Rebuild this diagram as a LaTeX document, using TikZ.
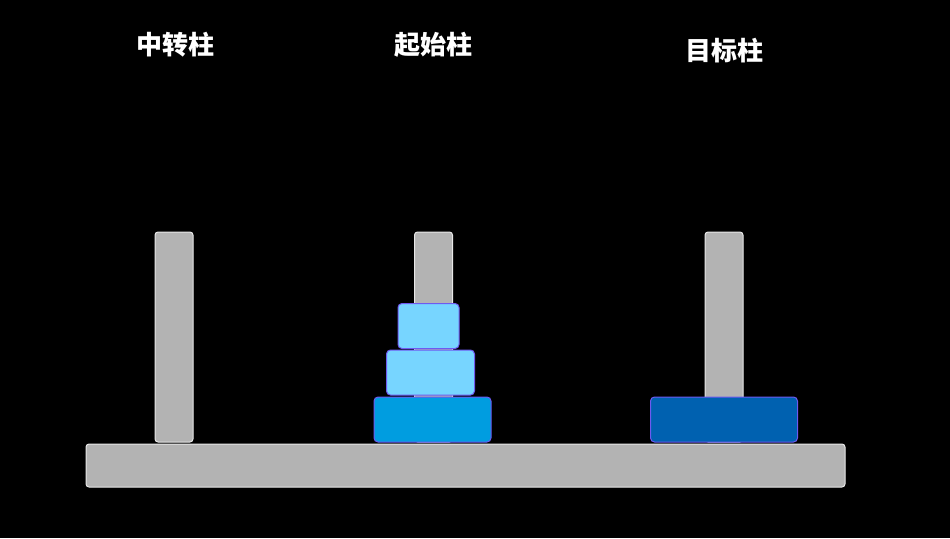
\documentclass[tikz,border=0pt]{standalone}
\usepackage{fontspec}
\newfontfamily\cjk{Noto Sans CJK SC}
\usetikzlibrary{positioning}
\definecolor{pegGray}{RGB}{179,179,179}
\definecolor{pegEdge}{RGB}{232,232,232}
\definecolor{diskEdge}{RGB}{110,90,240}
\definecolor{diskLight}{RGB}{119,213,255}
\definecolor{diskMid}{RGB}{0,157,224}
\definecolor{diskDark}{RGB}{0,97,176}

\begin{document}
\begin{tikzpicture}[
    x=1pt, y=-1pt,
    peg/.style={rectangle, draw=pegEdge, fill=pegGray, line width=1pt, rounded corners=3pt, minimum width=38pt, minimum height=210pt, inner sep=0pt, outer sep=0pt},
    base/.style={rectangle, draw=pegEdge, fill=pegGray, line width=1pt, rounded corners=3pt, minimum width=759pt, minimum height=43pt, inner sep=0pt, outer sep=0pt},
    disk/.style={rectangle, draw=diskEdge, line width=1pt, rounded corners=4pt, minimum height=45pt, inner sep=0pt, outer sep=0pt},
    title/.style={text=white, font=\cjk\bfseries\fontsize{26}{30}\selectfont, inner sep=0pt}
]
\fill[black] (0,0) rectangle (950,538);
\useasboundingbox (0,0) rectangle (950,538);

% Base and pegs
\node[base] (board) at (465.5,465.5) {};
\node[peg] (pegA) at (174,337) {};
\node[peg] (pegB) at (433.5,337) {};
\node[peg] (pegC) at (724,337) {};

% Disks on the start peg
\node[disk, fill=diskMid, minimum width=117pt] (d3) at (432.5,419.5) {};
\node[disk, fill=diskLight, minimum width=88pt] (d2) at (430.5,372.5) {};
\node[disk, fill=diskLight, minimum width=61pt] (d1) at (428.5,326) {};

% Disk on the target peg
\node[disk, fill=diskDark, minimum width=147pt] (d4) at (724,419.5) {};

% Peg titles
\node[title] (labA) at (175,45) {中转柱};
\node[title] (labB) at (433,45) {起始柱};
\node[title] (labC) at (724,51) {目标柱};

\end{tikzpicture}
\end{document}
